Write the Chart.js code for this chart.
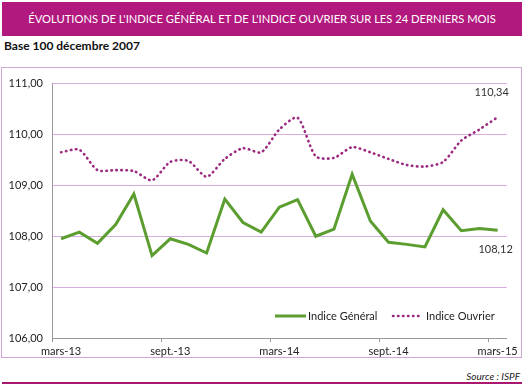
<!DOCTYPE html>
<html lang="fr">
<head>
<meta charset="utf-8">
<script src="https://cdn.jsdelivr.net/npm/chart.js@4.4.1/dist/chart.umd.min.js"></script>
<style>
  body { margin: 0; background: #fff; width: 524px; height: 387px; position: relative; overflow: hidden; font-family: Lato, "Open Sans", sans-serif; }
  #header { position: absolute; left: 2px; top: 2px; width: 520px; height: 34px; background: #b2197e; color: #fff; font-size: 11.2px; line-height: 33px; text-align: center; }
  #base { position: absolute; left: 4px; top: 38px; font-size: 12px; font-weight: bold; color: #111; }
  #box { position: absolute; left: 1px; top: 67px; width: 519px; height: 289px; border: 1px solid #cfa6d6; }
  #source { position: absolute; right: 4px; top: 370px; font-size: 10px; font-style: italic; color: #222; }
  #rule { position: absolute; left: 2px; top: 382px; width: 520px; height: 2px; background: #a8196f; }
</style>
</head>
<body>
<div id="header">ÉVOLUTIONS DE L'INDICE GÉNÉRAL ET DE L'INDICE OUVRIER SUR LES 24 DERNIERS MOIS</div>
<div id="base">Base 100 décembre 2007</div>
<div id="box"><canvas id="chart"></canvas></div>
<div id="source">Source : ISPF</div>
<div id="rule"></div>
<script>
// months mars-13 .. mars-15
const months = ['mars-13','avr.-13','mai-13','juin-13','juil.-13','août-13','sept.-13','oct.-13','nov.-13','déc.-13','janv.-14','févr.-14',
  'mars-14','avr.-14','mai-14','juin-14','juil.-14','août-14','sept.-14','oct.-14','nov.-14','déc.-14','janv.-15','févr.-15','mars-15'];
const indiceGeneral = [107.95, 108.08, 107.86, 108.23, 108.83, 107.62, 107.95, 107.84, 107.67, 108.73, 108.27, 108.08,
  108.57, 108.72, 108.00, 108.14, 109.22, 108.30, 107.88, 107.84, 107.79, 108.52, 108.11, 108.15, 108.12];
const indiceOuvrier = [109.65, 109.70, 109.30, 109.30, 109.28, 109.10, 109.46, 109.48, 109.17, 109.52, 109.73, 109.65,
  110.10, 110.33, 109.57, 109.54, 109.75, 109.65, 109.52, 109.40, 109.37, 109.46, 109.88, 110.10, 110.34];
const yMin = 106, yMax = 111;

const green = '#5b9e2f';
const purple = '#9b2a80';
const fmt = v => v.toFixed(2).replace('.', ',');

// legend and end labels drawn on top of the plot
const extras = {
  id: 'extras',
  afterDraw(chart) {
    const c = chart.ctx;
    c.save();
    c.font = '11px Lato, "Open Sans", sans-serif';
    c.textBaseline = 'middle';
    c.fillStyle = '#222';
    // legend
    const ly = 248;
    c.strokeStyle = green; c.lineWidth = 3; c.setLineDash([]);
    c.beginPath(); c.moveTo(273, ly); c.lineTo(304, ly); c.stroke();
    c.fillText('Indice Général', 306, ly);
    c.strokeStyle = purple; c.lineWidth = 2.5; c.lineCap = 'round'; c.setLineDash([0.5, 4.5]);
    c.beginPath(); c.moveTo(391, ly); c.lineTo(420, ly); c.stroke();
    c.setLineDash([]);
    c.fillText('Indice Ouvrier', 424, ly);
    // end values
    const last = months.length - 1;
    const x = chart.scales.x.getPixelForValue(last);
    c.fillStyle = '#333';
    c.textAlign = 'center';
    c.fillText(fmt(indiceOuvrier[last]), x - 6, chart.scales.y.getPixelForValue(indiceOuvrier[last]) - 25);
    c.fillText(fmt(indiceGeneral[last]), x - 2, chart.scales.y.getPixelForValue(indiceGeneral[last]) + 19);
    c.restore();
  }
};

new Chart(document.getElementById('chart'), {
  type: 'line',
  data: {
    labels: months,
    datasets: [{
      label: 'Indice Général',
      data: indiceGeneral,
      borderColor: green,
      borderWidth: 3,
      pointRadius: 0,
      tension: 0
    }, {
      label: 'Indice Ouvrier',
      data: indiceOuvrier,
      borderColor: purple,
      borderWidth: 2.6,
      borderDash: [0.5, 4.5],
      borderCapStyle: 'round',
      pointRadius: 0,
      tension: 0.25
    }]
  },
  options: {
    responsive: true,
    maintainAspectRatio: false,
    animation: false,
    layout: { padding: { top: 13, right: 14, left: 0, bottom: 0 } },
    plugins: { legend: { display: false }, tooltip: { enabled: false } },
    scales: {
      x: {
        offset: true,
        afterFit: s => { s.height = 19; },
        grid: {
          offset: true,
          drawOnChartArea: false,
          drawTicks: true,
          tickLength: 4,
          tickColor: ctx => (ctx.index % 6 === 0 ? '#999' : 'rgba(0,0,0,0)')
        },
        border: { color: '#999', width: 1 },
        ticks: {
          autoSkip: false,
          maxRotation: 0,
          padding: 3,
          color: '#222',
          font: { family: 'Lato, "Open Sans", sans-serif', size: 11 },
          callback: (v, i) => (i % 6 === 0 ? months[i] : '')
        }
      },
      y: {
        min: yMin,
        max: yMax,
        afterFit: s => { s.width = 50; },
        grid: { color: '#d6aede', lineWidth: 1, drawTicks: false },
        border: { color: '#999', width: 1 },
        ticks: {
          stepSize: 1,
          padding: 9,
          color: '#222',
          font: { family: 'Lato, "Open Sans", sans-serif', size: 11 },
          callback: v => fmt(v)
        }
      }
    }
  },
  plugins: [extras]
});
</script>
</body>
</html>
